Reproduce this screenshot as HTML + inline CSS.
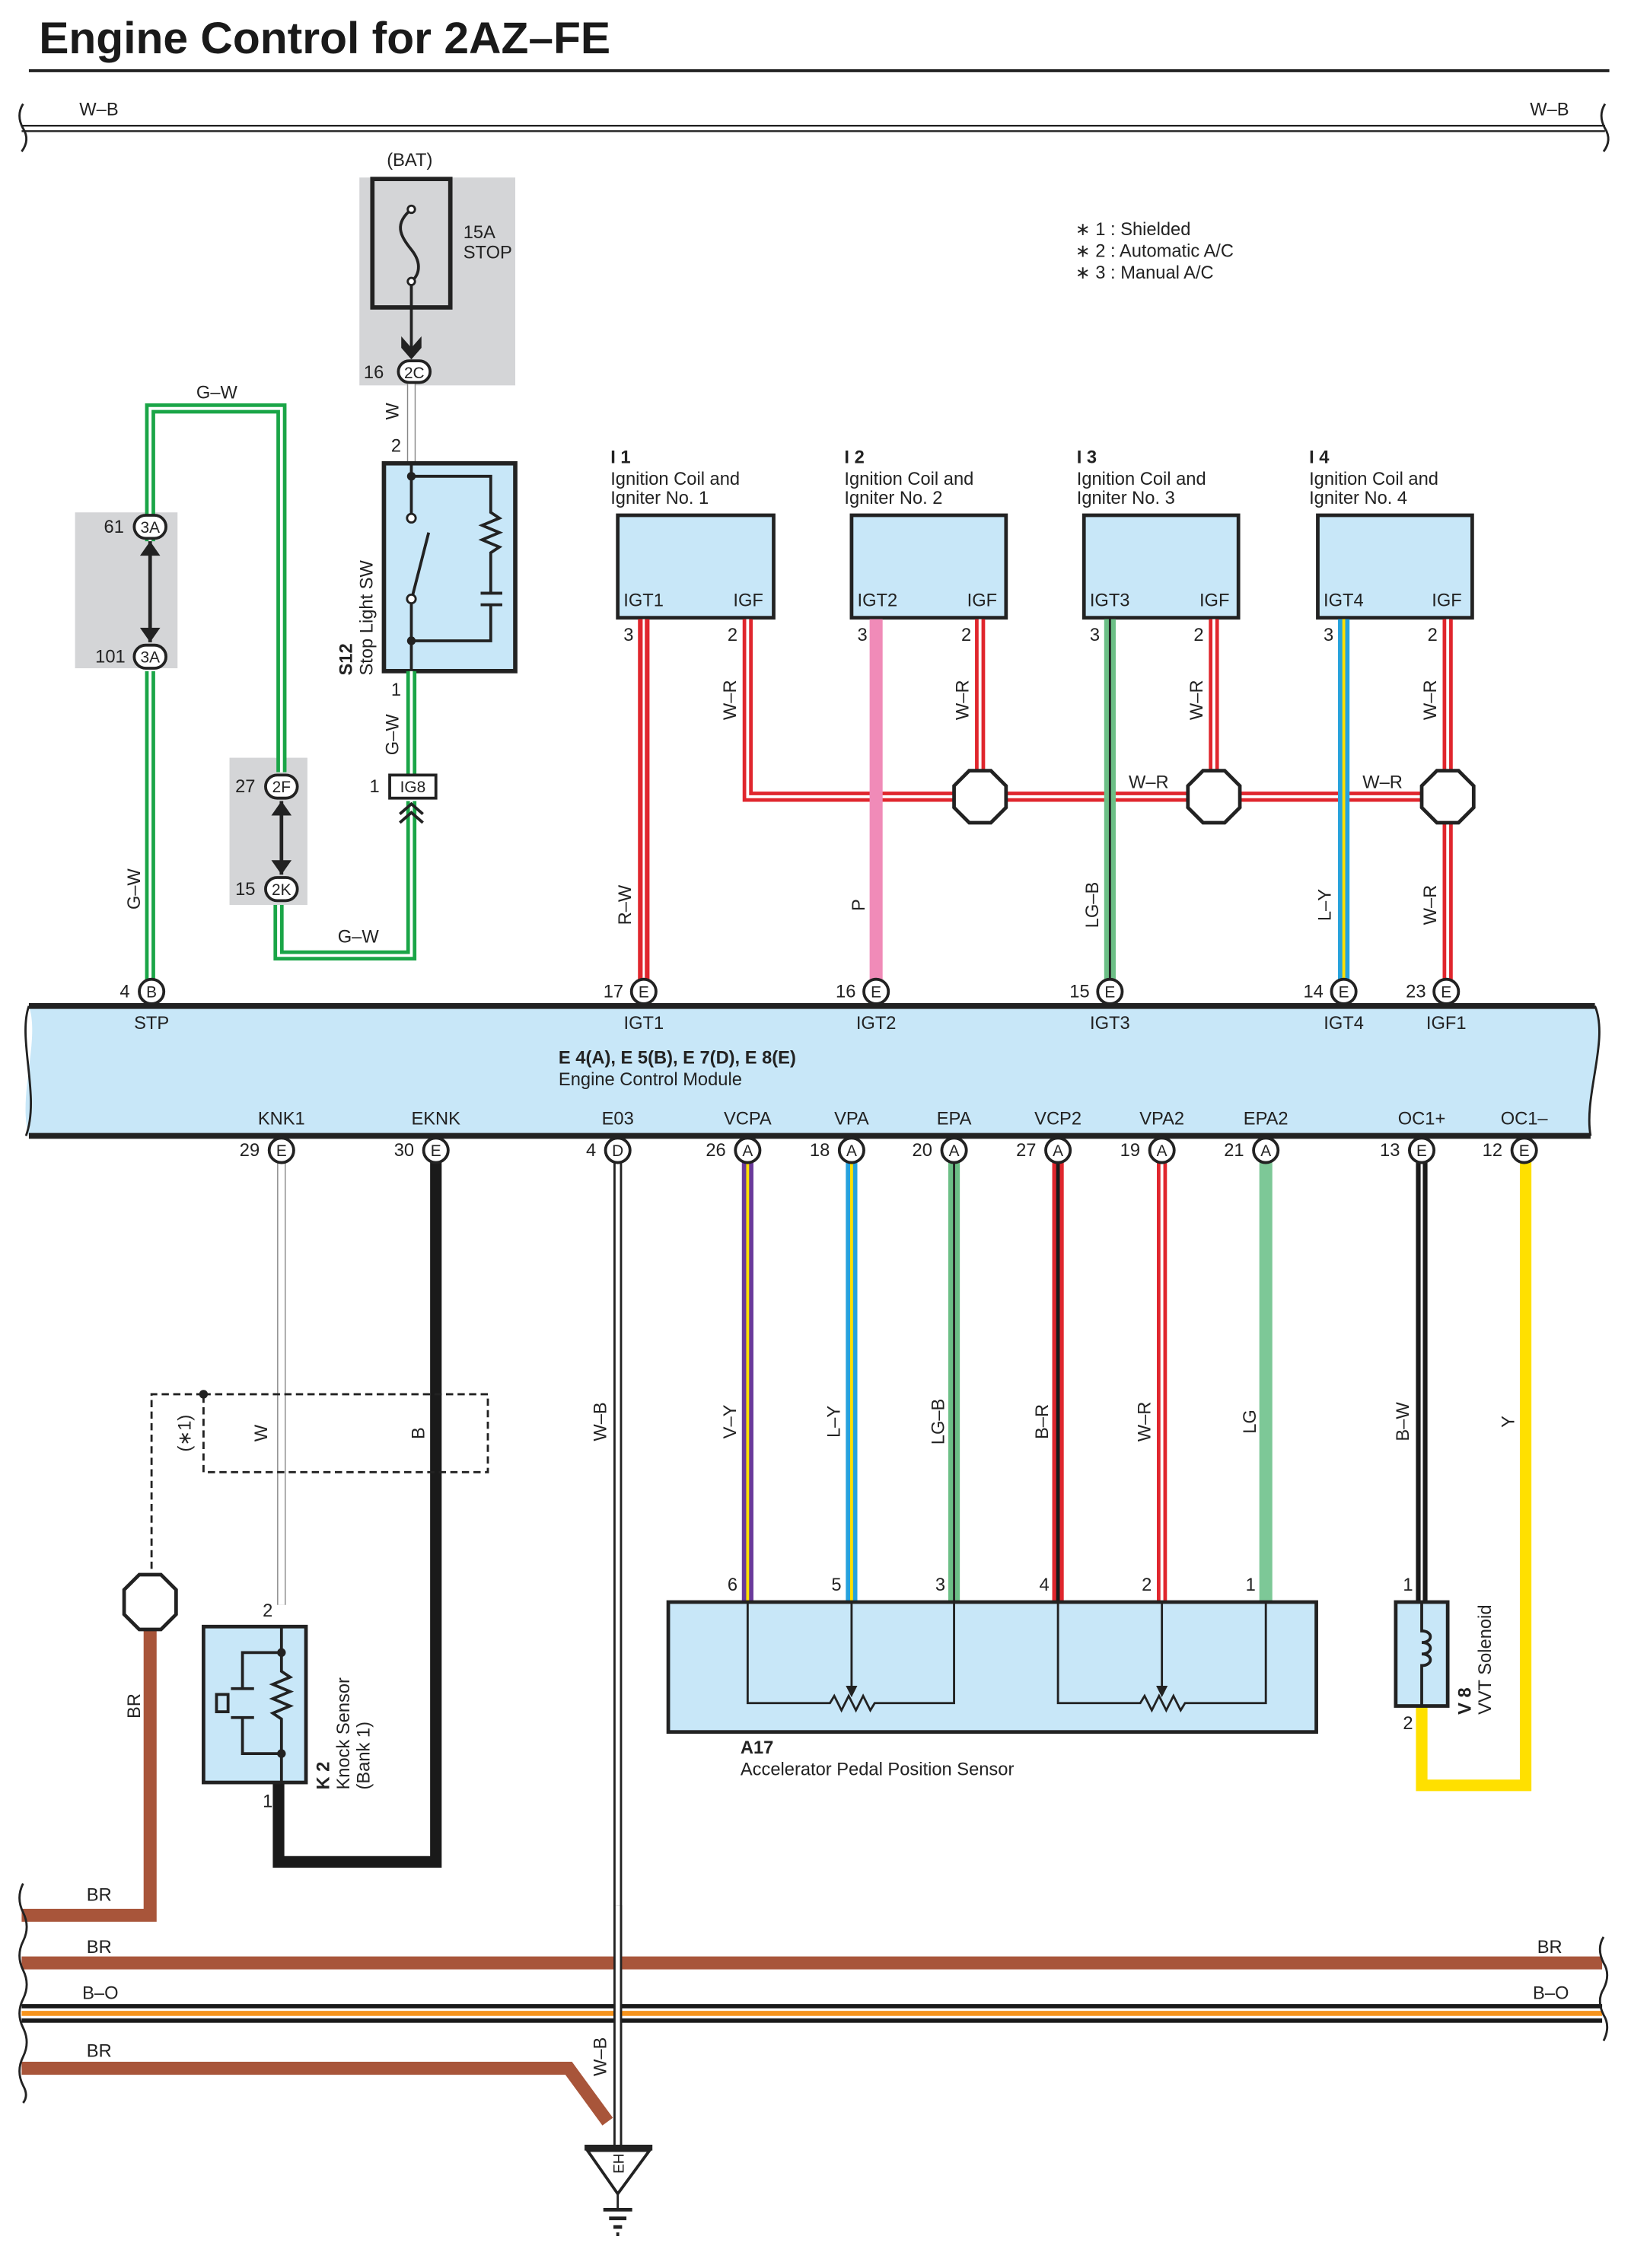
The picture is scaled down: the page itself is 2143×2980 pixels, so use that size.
<!DOCTYPE html>
<html><head><meta charset="utf-8"><style>
html,body{margin:0;padding:0;background:#fff}
svg{display:block}
text{font-family:"Liberation Sans",Arial,sans-serif;font-size:12.5px;fill:#222}
.b{font-weight:bold}
.c{text-anchor:middle}
</style></head><body>
<svg width="2143" height="2980" viewBox="0 0 1130 1571.4" preserveAspectRatio="none" xmlns="http://www.w3.org/2000/svg">
<rect width="1130" height="1572" fill="#fff"/>
<!-- title -->
<text x="27" y="37" class="b" style="font-size:31px;fill:#1a1a1a">Engine Control for 2AZ–FE</text>
<line x1="20" y1="49" x2="1115" y2="49" stroke="#222" stroke-width="2"/>

<!-- top W-B bus -->
<line x1="15" y1="89" x2="1112" y2="89" stroke="#222" stroke-width="5"/>
<line x1="15" y1="89" x2="1112" y2="89" stroke="#fff" stroke-width="2.5"/>
<path d="M16 72 q-5 8 0 17 q5 8 -1 16" fill="none" stroke="#222" stroke-width="1.5"/>
<path d="M1112 72 q-5 8 0 17 q5 8 -1 16" fill="none" stroke="#222" stroke-width="1.5"/>
<text x="55" y="80">W–B</text><text x="1060" y="80">W–B</text>

<!-- notes -->
<text x="745" y="163">∗ 1 : Shielded</text>
<text x="745" y="178">∗ 2 : Automatic A/C</text>
<text x="745" y="193">∗ 3 : Manual A/C</text>

<!-- gray boxes -->
<rect x="249" y="123" width="108" height="144" fill="#d4d5d7"/>
<rect x="52" y="355" width="71" height="108" fill="#d4d5d7"/>
<rect x="159" y="525" width="54" height="102" fill="#d4d5d7"/>

<!-- BAT fuse -->
<text x="268" y="115">(BAT)</text>
<rect x="258" y="124" width="54" height="89" fill="none" stroke="#222" stroke-width="3"/>
<path d="M285 145 c-12 10 -8 18 0 28 c8 10 5 18 0 22" fill="none" stroke="#222" stroke-width="2"/>
<circle cx="285" cy="145" r="2.5" fill="#fff" stroke="#222" stroke-width="1.5"/>
<circle cx="285" cy="195" r="2.5" fill="#fff" stroke="#222" stroke-width="1.5"/>
<line x1="285" y1="197" x2="285" y2="245" stroke="#222" stroke-width="2"/>
<path d="M278 233 l7 8 l7 -8 v8 l-7 8 l-7 -8z" fill="#222"/>
<text x="321" y="165">15A</text><text x="321" y="179">STOP</text>
<rect x="276" y="250" width="22" height="15" rx="7.5" fill="#fff" stroke="#222" stroke-width="2"/>
<text x="287" y="262" class="c" style="font-size:11px">2C</text>
<text x="252" y="262">16</text>
<!-- W wire -->
<line x1="285" y1="266" x2="285" y2="321" stroke="#888" stroke-width="6"/>
<line x1="285" y1="266" x2="285" y2="321" stroke="#fff" stroke-width="4.5"/>
<text transform="translate(276 285) rotate(-90)" class="c">W</text>
<text x="271" y="313">2</text>

<!-- S12 -->
<rect x="266" y="321" width="91" height="144" fill="#c8e7f8" stroke="#222" stroke-width="3"/>
<path d="M285 321 V330 M285 330 H340 V355 l6 4 l-12 5 l12 5 l-12 5 l12 5 l-6 4 V411 M333 411 h15 M333 419 h15 M340 419 V444 H285 M285 330 V356 M285 418 V465" fill="none" stroke="#222" stroke-width="2"/>
<circle cx="285" cy="330" r="3" fill="#222"/><circle cx="285" cy="444" r="3" fill="#222"/>
<circle cx="285" cy="359" r="3" fill="#fff" stroke="#222" stroke-width="1.5"/>
<circle cx="285" cy="415" r="3" fill="#fff" stroke="#222" stroke-width="1.5"/>
<line x1="286" y1="412" x2="297" y2="369" stroke="#222" stroke-width="2"/>
<text transform="translate(244 468) rotate(-90)" class="b">S12</text>
<text transform="translate(258 468) rotate(-90)">Stop Light SW</text>
<text x="271" y="482">1</text>

<!-- G-W wires -->
<g fill="none" stroke-linejoin="miter">
<path d="M285 465 V537 M285 555 V662 H193 V627 M195 604 V555 M195 535 V283 H104 V376 M104 444 V355 M104 465 V688" stroke="#1aa547" stroke-width="7"/>
<path d="M285 465 V537 M285 555 V662 H193 V627 M195 604 V555 M195 535 V283 H104 V376 M104 444 V355 M104 465 V688" stroke="#fff" stroke-width="2"/>
</g>
<rect x="98" y="375" width="12" height="70" fill="#d4d5d7"/>
<line x1="104" y1="375" x2="104" y2="445" stroke="#222" stroke-width="2.5"/>
<path d="M97 385 l7 -10 l7 10z M97 435 l7 10 l7 -10z" fill="#222"/>
<rect x="189" y="555" width="12" height="50" fill="#d4d5d7"/>
<line x1="195" y1="555" x2="195" y2="606" stroke="#222" stroke-width="2.5"/>
<path d="M188 565 l7 -10 l7 10z M188 596 l7 10 l7 -10z" fill="#222"/>
<rect x="93" y="357" width="22" height="16" rx="8" fill="#fff" stroke="#222" stroke-width="2"/><text x="104" y="369" class="c" style="font-size:11px">3A</text><text x="72" y="369">61</text>
<rect x="93" y="447" width="22" height="16" rx="8" fill="#fff" stroke="#222" stroke-width="2"/><text x="104" y="459" class="c" style="font-size:11px">3A</text><text x="66" y="459">101</text>
<rect x="184" y="537" width="22" height="16" rx="8" fill="#fff" stroke="#222" stroke-width="2"/><text x="195" y="549" class="c" style="font-size:11px">2F</text><text x="163" y="549">27</text>
<rect x="184" y="608" width="22" height="16" rx="8" fill="#fff" stroke="#222" stroke-width="2"/><text x="195" y="620" class="c" style="font-size:11px">2K</text><text x="163" y="620">15</text>
<rect x="270" y="537" width="32" height="16" fill="#fff" stroke="#222" stroke-width="2"/><text x="286" y="549" class="c" style="font-size:11px">IG8</text><text x="256" y="549">1</text>
<path d="M277 564 l8 -7 l8 7 M277 570 l8 -7 l8 7" fill="none" stroke="#222" stroke-width="2"/>
<text x="136" y="276">G–W</text>
<text x="234" y="653">G–W</text>
<text transform="translate(97 616) rotate(-90)" class="c">G–W</text>
<text transform="translate(276 509) rotate(-90)" class="c">G–W</text>

<!-- Ignition coils -->
<g>
<rect x="428" y="357" width="108" height="71" fill="#c8e7f8" stroke="#222" stroke-width="2.5"/>
<rect x="590" y="357" width="107" height="71" fill="#c8e7f8" stroke="#222" stroke-width="2.5"/>
<rect x="751" y="357" width="107" height="71" fill="#c8e7f8" stroke="#222" stroke-width="2.5"/>
<rect x="913" y="357" width="107" height="71" fill="#c8e7f8" stroke="#222" stroke-width="2.5"/>
<text x="423" y="321" class="b">I 1</text><text x="423" y="336">Ignition Coil and</text><text x="423" y="349">Igniter No. 1</text>
<text x="585" y="321" class="b">I 2</text><text x="585" y="336">Ignition Coil and</text><text x="585" y="349">Igniter No. 2</text>
<text x="746" y="321" class="b">I 3</text><text x="746" y="336">Ignition Coil and</text><text x="746" y="349">Igniter No. 3</text>
<text x="907" y="321" class="b">I 4</text><text x="907" y="336">Ignition Coil and</text><text x="907" y="349">Igniter No. 4</text>
<text x="432" y="420">IGT1</text><text x="508" y="420">IGF</text>
<text x="594" y="420">IGT2</text><text x="670" y="420">IGF</text>
<text x="755" y="420">IGT3</text><text x="831" y="420">IGF</text>
<text x="917" y="420">IGT4</text><text x="992" y="420">IGF</text>
<text x="432" y="444">3</text><text x="504" y="444">2</text>
<text x="594" y="444">3</text><text x="666" y="444">2</text>
<text x="755" y="444">3</text><text x="827" y="444">2</text>
<text x="917" y="444">3</text><text x="989" y="444">2</text>
</g>
<!-- IGF W-R network -->
<g fill="none">
<path d="M518 429 V552 H1003 M679 429 V552 M841 429 V552 M1003 429 V688" stroke="#e0262d" stroke-width="7"/>
<path d="M518 429 V552 H1003 M679 429 V552 M841 429 V552 M1003 429 V688" stroke="#fff" stroke-width="2"/>
</g>
<polygon points="671.5,534 686.5,534 697,544.5 697,559.5 686.5,570 671.5,570 661,559.5 661,544.5" fill="#fff" stroke="#222" stroke-width="2.5"/>
<polygon points="833.5,534 848.5,534 859,544.5 859,559.5 848.5,570 833.5,570 823,559.5 823,544.5" fill="#fff" stroke="#222" stroke-width="2.5"/>
<polygon points="995.5,534 1010.5,534 1021,544.5 1021,559.5 1010.5,570 995.5,570 985,559.5 985,544.5" fill="#fff" stroke="#222" stroke-width="2.5"/>
<!-- IGT wires -->
<line x1="446" y1="429" x2="446" y2="688" stroke="#e0262d" stroke-width="8"/><line x1="446" y1="429" x2="446" y2="688" stroke="#fff" stroke-width="1.5"/>
<line x1="607" y1="429" x2="607" y2="688" stroke="#f08bb8" stroke-width="9"/>
<line x1="769" y1="429" x2="769" y2="688" stroke="#6cbf86" stroke-width="8"/><line x1="769" y1="429" x2="769" y2="688" stroke="#222" stroke-width="1.5"/>
<line x1="931" y1="429" x2="931" y2="688" stroke="#27a2dc" stroke-width="8"/><line x1="931" y1="429" x2="931" y2="688" stroke="#ffe000" stroke-width="2"/>
<text transform="translate(510 485) rotate(-90)" class="c">W–R</text>
<text transform="translate(671 485) rotate(-90)" class="c">W–R</text>
<text transform="translate(833 485) rotate(-90)" class="c">W–R</text>
<text transform="translate(995 485) rotate(-90)" class="c">W–R</text>
<text transform="translate(995 627) rotate(-90)" class="c">W–R</text>
<text transform="translate(437 627) rotate(-90)" class="c">R–W</text>
<text transform="translate(599 627) rotate(-90)" class="c">P</text>
<text transform="translate(761 627) rotate(-90)" class="c">LG–B</text>
<text transform="translate(922 627) rotate(-90)" class="c">L–Y</text>
<text x="782" y="546">W–R</text><text x="944" y="546">W–R</text>

<!-- wires below ECM -->
<line x1="195" y1="797" x2="195" y2="1112" stroke="#888" stroke-width="6"/><line x1="195" y1="797" x2="195" y2="1112" stroke="#fff" stroke-width="4.5"/>
<path d="M302 797 V1290 H193 V1235" fill="none" stroke="#1a1a1a" stroke-width="8"/>
<line x1="428" y1="797" x2="428" y2="1488" stroke="#222" stroke-width="6"/><line x1="428" y1="797" x2="428" y2="1488" stroke="#fff" stroke-width="3"/>
<line x1="518" y1="797" x2="518" y2="1110" stroke="#6a3a9a" stroke-width="8"/><line x1="518" y1="797" x2="518" y2="1110" stroke="#ffe000" stroke-width="2"/>
<line x1="590" y1="797" x2="590" y2="1110" stroke="#27a2dc" stroke-width="8"/><line x1="590" y1="797" x2="590" y2="1110" stroke="#ffe000" stroke-width="2"/>
<line x1="661" y1="797" x2="661" y2="1110" stroke="#6cbf86" stroke-width="8"/><line x1="661" y1="797" x2="661" y2="1110" stroke="#222" stroke-width="1.5"/>
<line x1="733" y1="797" x2="733" y2="1110" stroke="#e0262d" stroke-width="8"/><line x1="733" y1="797" x2="733" y2="1110" stroke="#1a1a1a" stroke-width="2.5"/>
<line x1="805" y1="797" x2="805" y2="1110" stroke="#e0262d" stroke-width="7"/><line x1="805" y1="797" x2="805" y2="1110" stroke="#fff" stroke-width="2"/>
<line x1="877" y1="797" x2="877" y2="1110" stroke="#7dc897" stroke-width="9"/>
<line x1="985" y1="797" x2="985" y2="1110" stroke="#1a1a1a" stroke-width="8"/><line x1="985" y1="797" x2="985" y2="1110" stroke="#fff" stroke-width="1.5"/>
<path d="M985 1182 V1237 H1057 V797" fill="none" stroke="#ffe000" stroke-width="8"/>
<text transform="translate(185 993) rotate(-90)" class="c">W</text>
<text transform="translate(294 993) rotate(-90)" class="c">B</text>
<text transform="translate(420 985) rotate(-90)" class="c">W–B</text>
<text transform="translate(420 1425) rotate(-90)" class="c">W–B</text>
<text transform="translate(510 985) rotate(-90)" class="c">V–Y</text>
<text transform="translate(582 985) rotate(-90)" class="c">L–Y</text>
<text transform="translate(654 985) rotate(-90)" class="c">LG–B</text>
<text transform="translate(726 985) rotate(-90)" class="c">B–R</text>
<text transform="translate(797 985) rotate(-90)" class="c">W–R</text>
<text transform="translate(870 985) rotate(-90)" class="c">LG</text>
<text transform="translate(976 985) rotate(-90)" class="c">B–W</text>
<text transform="translate(1049 985) rotate(-90)" class="c">Y</text>

<!-- shield -->
<path d="M141 966 H338 V1020 H141 V966 M141 966 H105 V1092" fill="none" stroke="#222" stroke-width="1.5" stroke-dasharray="5 3"/>
<circle cx="141" cy="966" r="3" fill="#222"/>
<text transform="translate(132 993) rotate(-90)" class="c">(∗1)</text>
<path d="M104 1128 V1327 H15" fill="none" stroke="#a8553a" stroke-width="9"/>
<polygon points="96.5,1091 111.5,1091 122,1101.5 122,1118.5 111.5,1129 96.5,1129 86,1118.5 86,1101.5" fill="#fff" stroke="#222" stroke-width="2.5"/>
<text transform="translate(97 1182) rotate(-90)" class="c">BR</text>
<text x="60" y="1317">BR</text>

<!-- K2 -->
<rect x="141" y="1127" width="71" height="108" fill="#c8e7f8" stroke="#222" stroke-width="2.5"/>
<path d="M195 1127 V1145 M195 1145 H168 V1170 M168 1190 V1215 H195 M195 1145 V1158 l6 4 l-12 5 l12 5 l-12 5 l12 5 l-12 5 l6 4 V1235 M160 1170 h16 M160 1190 h16" fill="none" stroke="#222" stroke-width="2"/>
<rect x="150" y="1174" width="8" height="12" fill="none" stroke="#222" stroke-width="2"/>
<circle cx="195" cy="1145" r="3" fill="#222"/><circle cx="195" cy="1215" r="3" fill="#222"/>
<text x="182" y="1120">2</text><text x="182" y="1252">1</text>
<text transform="translate(228 1240) rotate(-90)" class="b">K 2</text>
<text transform="translate(242 1240) rotate(-90)">Knock Sensor</text>
<text transform="translate(256 1240) rotate(-90)">(Bank 1)</text>

<!-- A17 -->
<rect x="463" y="1110" width="449" height="90" fill="#c8e7f8" stroke="#222" stroke-width="2.5"/>
<path d="M518 1110 V1180 H575 l3 -5 l5 10 l5 -10 l5 10 l5 -10 l5 10 l3 -5 H661 V1110 M590 1110 V1172 M733 1110 V1180 H790 l3 -5 l5 10 l5 -10 l5 10 l5 -10 l5 10 l3 -5 H877 V1110 M805 1110 V1172" fill="none" stroke="#222" stroke-width="1.5"/>
<path d="M586 1168 l4 8 l4 -8z M801 1168 l4 8 l4 -8z" fill="#222"/>
<text x="504" y="1102">6</text><text x="576" y="1102">5</text><text x="648" y="1102">3</text>
<text x="720" y="1102">4</text><text x="791" y="1102">2</text><text x="863" y="1102">1</text>
<text x="513" y="1215" class="b">A17</text>
<text x="513" y="1230">Accelerator Pedal Position Sensor</text>

<!-- V8 -->
<rect x="967" y="1110" width="36" height="72" fill="#c8e7f8" stroke="#222" stroke-width="2.5"/>
<path d="M985 1110 V1130 c8 0 8 8 0 8 c8 0 8 8 0 8 c8 0 8 8 0 8 V1182" fill="none" stroke="#222" stroke-width="2"/>
<text x="972" y="1102">1</text><text x="972" y="1198">2</text>
<text transform="translate(1019 1188) rotate(-90)" class="b">V 8</text>
<text transform="translate(1033 1188) rotate(-90)">VVT Solenoid</text>

<!-- ECM -->
<path d="M20 697 H1105 C1115 720 1097 760 1102 787 H20 C12 760 28 720 20 697Z" fill="#c8e7f8"/>
<line x1="20" y1="697" x2="1105" y2="697" stroke="#222" stroke-width="4"/>
<line x1="20" y1="787" x2="1102" y2="787" stroke="#222" stroke-width="4"/>
<path d="M20 697 C12 720 28 760 18 787 M1105 697 C1115 720 1097 760 1102 787" fill="none" stroke="#222" stroke-width="1.5"/>
<g>
<text x="105" y="713" class="c">STP</text><text x="446" y="713" class="c">IGT1</text><text x="607" y="713" class="c">IGT2</text>
<text x="769" y="713" class="c">IGT3</text><text x="931" y="713" class="c">IGT4</text><text x="1002" y="713" class="c">IGF1</text>
<text x="195" y="779" class="c">KNK1</text><text x="302" y="779" class="c">EKNK</text><text x="428" y="779" class="c">E03</text>
<text x="518" y="779" class="c">VCPA</text><text x="590" y="779" class="c">VPA</text><text x="661" y="779" class="c">EPA</text>
<text x="733" y="779" class="c">VCP2</text><text x="805" y="779" class="c">VPA2</text><text x="877" y="779" class="c">EPA2</text>
<text x="985" y="779" class="c">OC1+</text><text x="1056" y="779" class="c">OC1–</text>
</g>
<text x="387" y="737" class="b">E 4(A), E 5(B), E 7(D), E 8(E)</text>
<text x="387" y="752">Engine Control Module</text>
<!-- connectors top -->
<g>
<circle cx="105" cy="687" r="8.5" fill="#fff" stroke="#222" stroke-width="2"/><text x="105" y="691" class="c" style="font-size:11px">B</text><text x="83" y="691">4</text>
<circle cx="446" cy="687" r="8.5" fill="#fff" stroke="#222" stroke-width="2"/><text x="446" y="691" class="c" style="font-size:11px">E</text><text x="418" y="691">17</text>
<circle cx="607" cy="687" r="8.5" fill="#fff" stroke="#222" stroke-width="2"/><text x="607" y="691" class="c" style="font-size:11px">E</text><text x="579" y="691">16</text>
<circle cx="769" cy="687" r="8.5" fill="#fff" stroke="#222" stroke-width="2"/><text x="769" y="691" class="c" style="font-size:11px">E</text><text x="741" y="691">15</text>
<circle cx="931" cy="687" r="8.5" fill="#fff" stroke="#222" stroke-width="2"/><text x="931" y="691" class="c" style="font-size:11px">E</text><text x="903" y="691">14</text>
<circle cx="1002" cy="687" r="8.5" fill="#fff" stroke="#222" stroke-width="2"/><text x="1002" y="691" class="c" style="font-size:11px">E</text><text x="974" y="691">23</text>
<!-- bottom -->
<circle cx="195" cy="797" r="8.5" fill="#fff" stroke="#222" stroke-width="2"/><text x="195" y="801" class="c" style="font-size:11px">E</text><text x="166" y="801">29</text>
<circle cx="302" cy="797" r="8.5" fill="#fff" stroke="#222" stroke-width="2"/><text x="302" y="801" class="c" style="font-size:11px">E</text><text x="273" y="801">30</text>
<circle cx="428" cy="797" r="8.5" fill="#fff" stroke="#222" stroke-width="2"/><text x="428" y="801" class="c" style="font-size:11px">D</text><text x="406" y="801">4</text>
<circle cx="518" cy="797" r="8.5" fill="#fff" stroke="#222" stroke-width="2"/><text x="518" y="801" class="c" style="font-size:11px">A</text><text x="489" y="801">26</text>
<circle cx="590" cy="797" r="8.5" fill="#fff" stroke="#222" stroke-width="2"/><text x="590" y="801" class="c" style="font-size:11px">A</text><text x="561" y="801">18</text>
<circle cx="661" cy="797" r="8.5" fill="#fff" stroke="#222" stroke-width="2"/><text x="661" y="801" class="c" style="font-size:11px">A</text><text x="632" y="801">20</text>
<circle cx="733" cy="797" r="8.5" fill="#fff" stroke="#222" stroke-width="2"/><text x="733" y="801" class="c" style="font-size:11px">A</text><text x="704" y="801">27</text>
<circle cx="805" cy="797" r="8.5" fill="#fff" stroke="#222" stroke-width="2"/><text x="805" y="801" class="c" style="font-size:11px">A</text><text x="776" y="801">19</text>
<circle cx="877" cy="797" r="8.5" fill="#fff" stroke="#222" stroke-width="2"/><text x="877" y="801" class="c" style="font-size:11px">A</text><text x="848" y="801">21</text>
<circle cx="985" cy="797" r="8.5" fill="#fff" stroke="#222" stroke-width="2"/><text x="985" y="801" class="c" style="font-size:11px">E</text><text x="956" y="801">13</text>
<circle cx="1056" cy="797" r="8.5" fill="#fff" stroke="#222" stroke-width="2"/><text x="1056" y="801" class="c" style="font-size:11px">E</text><text x="1027" y="801">12</text>
</g>

<!-- bottom buses -->
<line x1="15" y1="1360" x2="1110" y2="1360" stroke="#a8553a" stroke-width="9"/>
<text x="60" y="1353">BR</text><text x="1065" y="1353">BR</text>
<line x1="15" y1="1390" x2="1110" y2="1390" stroke="#1a1a1a" stroke-width="3"/>
<line x1="15" y1="1400" x2="1110" y2="1400" stroke="#1a1a1a" stroke-width="3"/>
<line x1="15" y1="1395" x2="1110" y2="1395" stroke="#f7941d" stroke-width="3.5"/>
<text x="57" y="1385">B–O</text><text x="1062" y="1385">B–O</text>
<path d="M15 1433 H394 L421 1470" fill="none" stroke="#a8553a" stroke-width="9"/>
<text x="60" y="1425">BR</text>
<line x1="428" y1="1320" x2="428" y2="1488" stroke="#222" stroke-width="6"/><line x1="428" y1="1320" x2="428" y2="1488" stroke="#fff" stroke-width="3"/>
<path d="M16 1305 q-5 10 0 20 q5 10 0 20 q-5 10 0 20 q5 10 0 20 q-5 10 0 20 q5 10 0 20 q-5 10 0 20 q4 7 0 12" fill="none" stroke="#222" stroke-width="1.5"/>
<path d="M1111 1342 q-5 8 0 18 q5 8 0 18 q-5 8 0 18 q5 8 0 18" fill="none" stroke="#222" stroke-width="1.5"/>

<!-- ground -->
<line x1="405" y1="1488" x2="452" y2="1488" stroke="#222" stroke-width="4"/>
<polygon points="407,1490 450,1490 428,1520" fill="#fff" stroke="#222" stroke-width="2"/>
<text transform="translate(432 1499) rotate(-90)" class="c" style="font-size:10px">EH</text>
<line x1="428" y1="1520" x2="428" y2="1530" stroke="#222" stroke-width="1.5"/>
<line x1="418" y1="1531" x2="438" y2="1531" stroke="#222" stroke-width="2.5"/>
<line x1="422" y1="1537" x2="434" y2="1537" stroke="#222" stroke-width="2.5"/>
<line x1="425" y1="1543" x2="431" y2="1543" stroke="#222" stroke-width="2.5"/>
<line x1="427" y1="1548" x2="429" y2="1548" stroke="#222" stroke-width="2.5"/>
</svg>
</body></html>
